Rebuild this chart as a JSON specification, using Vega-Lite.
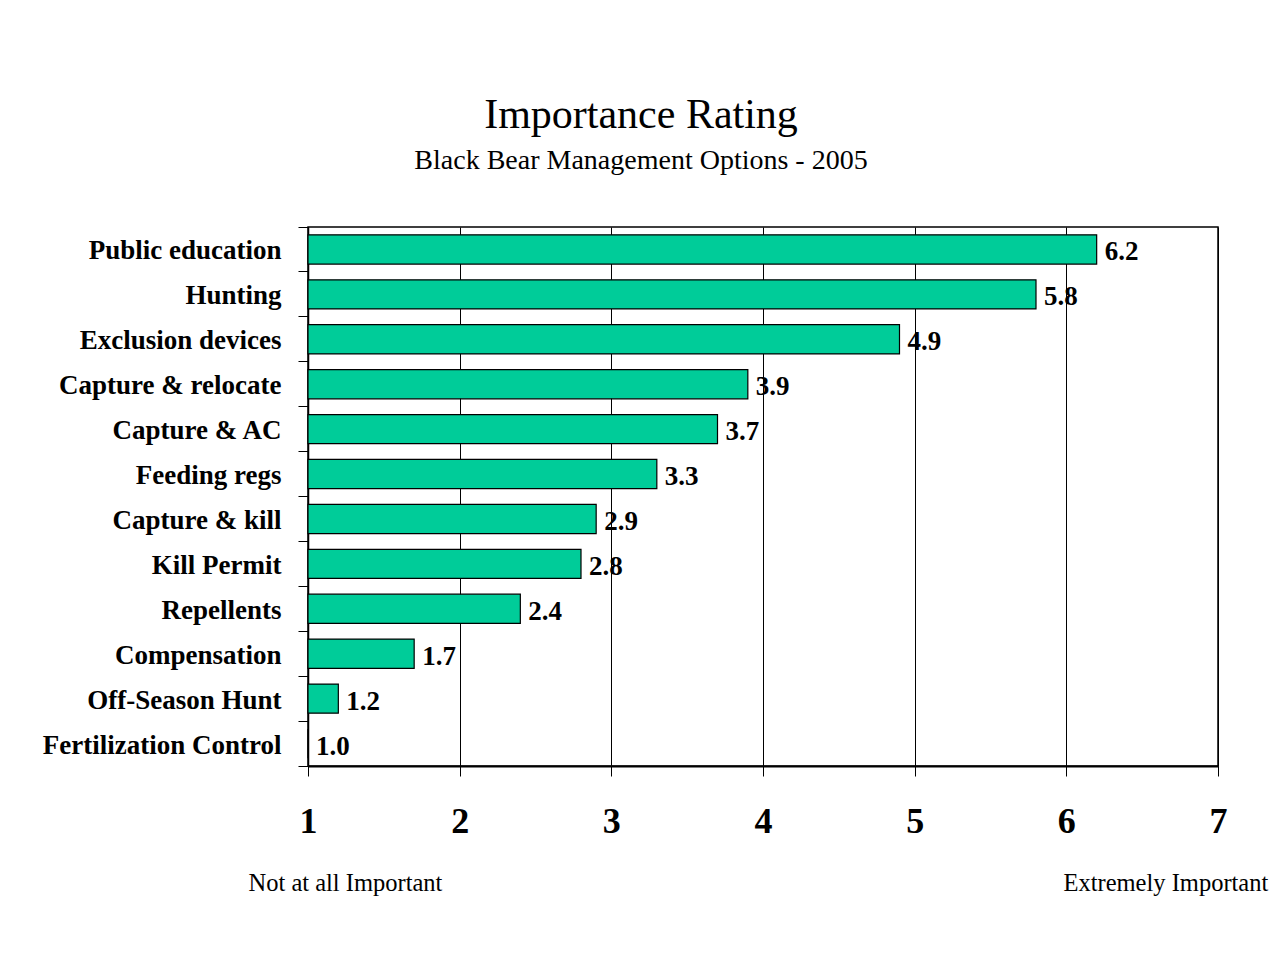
{
  "$schema": "https://vega.github.io/schema/vega-lite/v6.json",
  "autosize": {"type": "none"},
  "width": 910,
  "height": 539,
  "padding": {"left": 308, "top": 227, "right": 63, "bottom": 199},
  "background": "white",
  "config": {
    "font": "Liberation Serif",
    "view": {"stroke": "black", "strokeWidth": 1.5}
  },
  "title": {
    "text": "Importance Rating",
    "subtitle": "Black Bear Management Options - 2005",
    "font": "Liberation Serif",
    "fontSize": 42,
    "fontWeight": "normal",
    "color": "black",
    "subtitleFont": "Liberation Serif",
    "subtitleFontSize": 28,
    "subtitleColor": "black",
    "subtitlePadding": 10,
    "anchor": "middle",
    "frame": "group",
    "dx": -122,
    "offset": 37
  },
  "data": {
    "values": [
      {"option": "Public education", "rating": 6.2},
      {"option": "Hunting", "rating": 5.8},
      {"option": "Exclusion devices", "rating": 4.9},
      {"option": "Capture & relocate", "rating": 3.9},
      {"option": "Capture & AC", "rating": 3.7},
      {"option": "Feeding regs", "rating": 3.3},
      {"option": "Capture & kill", "rating": 2.9},
      {"option": "Kill Permit", "rating": 2.8},
      {"option": "Repellents", "rating": 2.4},
      {"option": "Compensation", "rating": 1.7},
      {"option": "Off-Season Hunt", "rating": 1.2},
      {"option": "Fertilization Control", "rating": 1.0}
    ]
  },
  "resolve": {"axis": {"x": "independent"}},
  "layer": [
    {
      "mark": {"type": "bar", "color": "#00CC99", "stroke": "black", "strokeWidth": 1.2, "height": {"band": 0.65}},
      "encoding": {
        "y": {
          "field": "option",
          "type": "nominal",
          "sort": null,
          "scale": {"paddingInner": 0, "paddingOuter": 0},
          "axis": {
            "title": null,
            "bandPosition": 1,
            "tickExtra": true,
            "labelOffset": 2,
            "tickSize": 10,
            "tickColor": "black",
            "tickWidth": 1,
            "domainColor": "black",
            "domainWidth": 1.5,
            "labelPadding": 17,
            "labelFont": "Liberation Serif",
            "labelFontSize": 27,
            "labelFontWeight": "bold",
            "labelColor": "black",
            "labelLimit": 400
          }
        },
        "x": {
          "field": "rating",
          "type": "quantitative",
          "scale": {"domain": [1, 7], "nice": false, "zero": false},
          "axis": {
            "values": [1, 2, 3, 4, 5, 6, 7],
            "format": "d",
            "grid": true,
            "gridColor": "black",
            "gridWidth": 1,
            "gridOpacity": 1,
            "tickSize": 10,
            "tickColor": "black",
            "tickWidth": 1,
            "domainColor": "black",
            "domainWidth": 2,
            "labelPadding": 28,
            "labelFont": "Liberation Serif",
            "labelFontSize": 36,
            "labelFontWeight": "bold",
            "labelColor": "black",
            "labelFlush": false,
            "title": "Not at all Important",
            "titleFont": "Liberation Serif",
            "titleFontSize": 24.5,
            "titleFontWeight": "normal",
            "titleColor": "black",
            "titleAlign": "left",
            "titleBaseline": "alphabetic",
            "titleX": -60,
            "titleY": 124
          }
        },
        "x2": {"datum": 1}
      }
    },
    {
      "mark": {"type": "text", "align": "left", "baseline": "middle", "dx": 8, "dy": 3, "font": "Liberation Serif", "fontSize": 27, "fontWeight": "bold", "color": "black"},
      "encoding": {
        "y": {"field": "option", "type": "nominal", "sort": null},
        "x": {
          "field": "rating",
          "type": "quantitative",
          "axis": {
            "orient": "top",
            "domain": false,
            "ticks": false,
            "labels": false,
            "grid": false,
            "title": "Extremely Important",
            "titleFont": "Liberation Serif",
            "titleFontSize": 24.5,
            "titleFontWeight": "normal",
            "titleColor": "black",
            "titleAlign": "left",
            "titleBaseline": "alphabetic",
            "titleAngle": 0,
            "titleX": 755,
            "titleY": 663
          }
        },
        "text": {"field": "rating", "type": "quantitative", "format": ".1f"}
      }
    }
  ]
}
